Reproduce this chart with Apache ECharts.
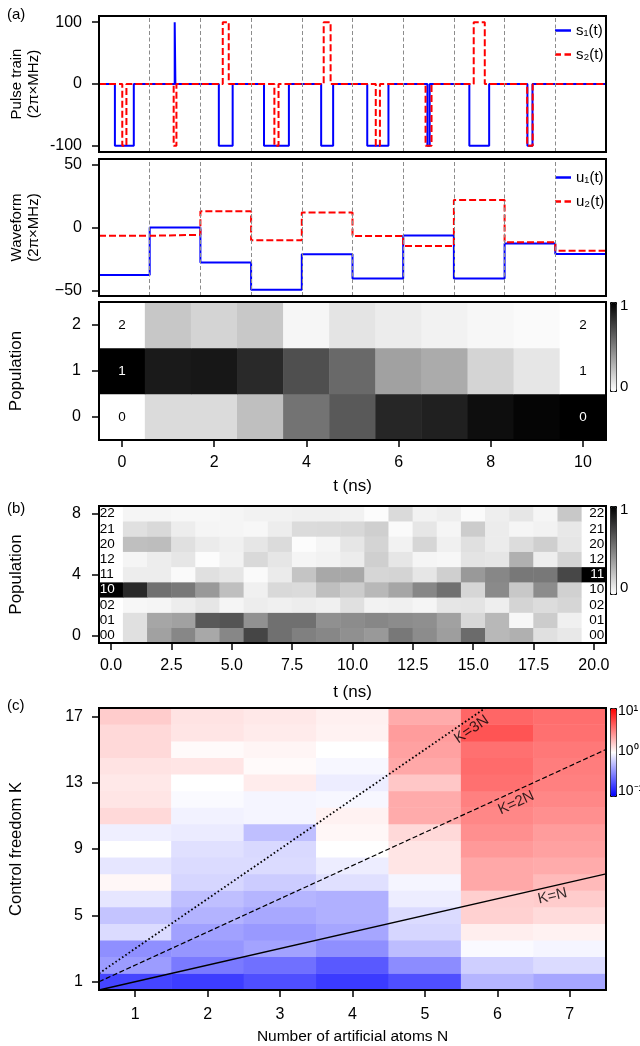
<!DOCTYPE html>
<html><head><meta charset="utf-8">
<script src="https://cdn.jsdelivr.net/npm/echarts@6/dist/echarts.min.js"></script>
<style>html,body{margin:0;padding:0;background:#fff}#c{width:640px;height:1046px}</style>
</head><body><div id="c"></div>
<script>
// ---------- Panel (a): pulse train & waveform ----------
const segBounds = [-0.5, 0.6, 1.7, 2.8, 3.9, 5.0, 6.1, 7.2, 8.3, 9.4, 10.5];
const s1Amp   = [-100, 100, -100, -100, -100, -100, -100, -100, -100, 0];
const s1Width = [0.41, 0.015, 0.30, 0.54, 0.26, 0.46, 0.05, 0.43, 0.11, 0];
const s2Amp   = [-100, -100, 100, -100, 100, -100, -100, 100, -100, 0];
const s2Width = [0.09, 0.06, 0.13, 0.09, 0.15, 0.09, 0.13, 0.24, 0.12, 0];
const u1 = [-37.8, 0, -27.9, -49.5, -21.3, -40.5, -6.4, -40.5, -12.8, -21.1];
const u2 = [-6.6, -5.8, 13.0, -10.1, 12.0, -6.7, -14.7, 21.8, -11.7, -18.4];
const pulseTicks = [-100, 0, 100];
const waveTicks = [-50, 0, 50];

// ---------- Panel (a): population ----------
const timeA = ['0','1','2','3','4','5','6','7','8','9','10'];
const levelsA = ['0','1','2'];
const popA0 = [0, 0.14, 0.14, 0.25, 0.55, 0.65, 0.85, 0.875, 0.945, 0.98, 1];
const popA1 = [1, 0.90, 0.91, 0.84, 0.69, 0.59, 0.37, 0.33, 0.17, 0.10, 0];
const popA2 = [0, 0.22, 0.17, 0.215, 0.035, 0.105, 0.075, 0.05, 0.03, 0.02, 0];

// ---------- Panel (b): two-atom population ----------
const timeB = ['0','1','2','3','4','5','6','7','8','9','10','11','12','13','14','15','16','17','18','19','20'];
const rowIdxB = ['0','1','2','3','4','5','6','7','8'];
const statesB = ['00','01','02','10','11','12','20','21','22'];
const popB00 = [0, 0.12, 0.37, 0.47, 0.34, 0.47, 0.73, 0.56, 0.50, 0.47, 0.435, 0.40, 0.53, 0.45, 0.38, 0.58, 0.28, 0.31, 0.12, 0.09, 0];
const popB01 = [0, 0.12, 0.35, 0.37, 0.65, 0.67, 0.43, 0.56, 0.56, 0.435, 0.45, 0.47, 0.45, 0.44, 0.37, 0.153, 0.28, 0.03, 0.20, 0.06, 0];
const popB02 = [0, 0.03, 0.04, 0.07, 0.10, 0.04, 0.07, 0.06, 0.07, 0.06, 0.12, 0.05, 0.06, 0.04, 0.10, 0.105, 0.067, 0.17, 0.137, 0.16, 0];
const popB10 = [1, 0.84, 0.56, 0.53, 0.40, 0.25, 0.06, 0.15, 0.14, 0.25, 0.20, 0.28, 0.35, 0.47, 0.56, 0.16, 0.46, 0.215, 0.45, 0.18, 0];
const popB11 = [0, 0.07, 0.07, 0.02, 0.12, 0.10, 0.02, 0.08, 0.23, 0.34, 0.34, 0.16, 0.17, 0.10, 0.19, 0.40, 0.47, 0.53, 0.53, 0.72, 1];
const popB12 = [0, 0.04, 0.07, 0.10, 0.01, 0.05, 0.15, 0.10, 0.04, 0.05, 0.075, 0.19, 0.10, 0.04, 0.03, 0.105, 0.10, 0.31, 0.067, 0.17, 0];
const popB20 = [0, 0.25, 0.26, 0.12, 0.08, 0.06, 0.10, 0.14, 0.01, 0.04, 0.10, 0.17, 0.05, 0.16, 0.06, 0.12, 0.075, 0.137, 0.19, 0.10, 0];
const popB21 = [0, 0.12, 0.15, 0.07, 0.04, 0.04, 0.03, 0.07, 0.14, 0.145, 0.153, 0.19, 0.02, 0.10, 0.04, 0.20, 0.075, 0.04, 0.05, 0.09, 0];
const popB22 = [0, 0.04, 0.04, 0.03, 0.03, 0.04, 0.05, 0.05, 0.06, 0.06, 0.05, 0.01, 0.145, 0.05, 0.067, 0.02, 0.067, 0.10, 0.04, 0.215, 0];
const tTicksB = [0, 2.5, 5, 7.5, 10, 12.5, 15, 17.5, 20];

// ---------- Panel (c): log10 ratio ----------
const atomsN = ['1','2','3','4','5','6','7'];
const freedomK = ['1','2','3','4','5','6','7','8','9','10','11','12','13','14','15','16','17'];
const logN1 = [-0.73, -0.39, -0.44, -0.14, -0.23, -0.10, 0.03, -0.10, 0.00, -0.063, 0.15, 0.10, 0.09, 0.11, 0.15, 0.15, 0.20];
const logN2 = [-0.76, -0.52, -0.41, -0.37, -0.30, -0.25, -0.16, -0.14, -0.12, -0.08, -0.05, -0.02, 0.00, 0.10, 0.02, 0.10, 0.11];
const logN3 = [-0.69, -0.56, -0.36, -0.40, -0.34, -0.29, -0.20, -0.14, -0.15, -0.25, -0.04, -0.04, 0.075, 0.02, 0.04, 0.08, 0.09];
const logN4 = [-0.77, -0.65, -0.44, -0.35, -0.31, -0.31, -0.12, -0.07, 0.00, 0.03, 0.05, -0.03, -0.07, -0.03, 0.00, 0.05, 0.06];
const logN5 = [-0.69, -0.45, -0.26, -0.16, -0.14, -0.07, -0.04, 0.10, 0.10, 0.15, 0.33, 0.33, 0.22, 0.34, 0.37, 0.39, 0.33];
const logN6 = [-0.29, -0.19, -0.02, 0.067, 0.18, 0.19, 0.34, 0.34, 0.40, 0.44, 0.47, 0.50, 0.56, 0.58, 0.56, 0.67, 0.60];
const logN7 = [-0.35, -0.14, -0.04, 0.05, 0.14, 0.20, 0.27, 0.33, 0.37, 0.39, 0.44, 0.47, 0.50, 0.51, 0.53, 0.56, 0.57];
const lineKN  = [[0.5, 0.5], [7.5, 7.5]];
const lineK2N = [[0.5, 1.0], [7.5, 15.0]];
const lineK3N = [[0.5, 1.5], [5.8333, 17.5]];
const lineLabelPos = [[5.645, 16.2, 'K=3N'], [6.26, 11.78, 'K=2N'], [6.76, 6.16, 'K=N']];
const lineLabelRot = [34.5, 24.6, 12.9];

// ---------- build helpers ----------
const FONT = 'Liberation Sans';
function pulsePoints(amp, width) {
  const pts = [[segBounds[0], 0]];
  for (let i = 0; i < amp.length; i++) {
    if (!amp[i] || !width[i]) continue;
    const c = (segBounds[i] + segBounds[i + 1]) / 2, a = c - width[i] / 2, b = c + width[i] / 2;
    pts.push([a, 0], [a, amp[i]], [b, amp[i]], [b, 0]);
  }
  pts.push([segBounds[segBounds.length - 1], 0]);
  return pts;
}
function stepPoints(vals) {
  const pts = vals.map((v, i) => [segBounds[i], v]);
  pts.push([segBounds[segBounds.length - 1], vals[vals.length - 1]]);
  return pts;
}
const vLines = segBounds.slice(1, -1).map(x => ({ xAxis: x }));
const markV = { silent: true, symbol: 'none', label: { show: false },
  lineStyle: { type: [4, 2.5], color: '#8c8c8c', width: 1 }, data: vLines, animation: false };

const popARows = [popA0, popA1, popA2];
const heatA = [];
popARows.forEach((row, r) => row.forEach((v, t) => {
  const item = { value: [t, r, v] };
  if (t === 0 || t === row.length - 1) item.label = { show: true, formatter: levelsA[r], color: v > 0.5 ? '#fff' : '#000', fontSize: 13.5 };
  heatA.push(item);
}));
const popBRows = [popB00, popB01, popB02, popB10, popB11, popB12, popB20, popB21, popB22];
const heatB = [];
popBRows.forEach((row, r) => row.forEach((v, t) => {
  const item = { value: [t, r, v] };
  if (t === 0) item.label = { show: true, formatter: statesB[r], position: 'insideLeft', distance: 1, color: v > 0.5 ? '#fff' : '#000', fontSize: 13.5 };
  if (t === row.length - 1) item.label = { show: true, formatter: statesB[r], position: 'insideRight', distance: 2, color: v > 0.5 ? '#fff' : '#000', fontSize: 13.5 };
  heatB.push(item);
}));
const logCols = [logN1, logN2, logN3, logN4, logN5, logN6, logN7];
const heatC = [];
logCols.forEach((col, n) => col.forEach((v, k) => heatC.push([n, k, v])));

const gridBase = { show: true, z: 10, borderColor: '#000', borderWidth: 2, backgroundColor: 'transparent', containLabel: false, outerBoundsMode: 'none' };
const tickStyle = { show: true, length: 7, lineStyle: { color: '#000', width: 1.5 } };
const lblStyle = { color: '#000', fontSize: 16, fontFamily: FONT };
const lineAx = { show: true, onZero: false, lineStyle: { color: '#000', width: 2 } };
const solidIcon = 'path://M0 0h16v2.5h-16z';
const dashIcon = 'path://M0 0h6v2.5h-6z M9.5 0h6.5v2.5h-6.5z';
const legendBase = { orient: 'vertical', left: 555, padding: 0, itemWidth: 16, itemHeight: 2.5, itemGap: 9,
  symbolKeepAspect: false, textStyle: { color: '#000', fontSize: 15, fontFamily: FONT }, selectedMode: false };

const option = {
  animation: false,
  textStyle: { fontFamily: FONT },
  grid: [
    Object.assign({ left: 99, top: 16, width: 507, height: 136 }, gridBase),
    Object.assign({ left: 99, top: 159, width: 507, height: 137 }, gridBase),
    Object.assign({ left: 99, top: 302, width: 507, height: 138 }, gridBase),
    Object.assign({ left: 99, top: 506, width: 507, height: 137 }, gridBase),
    Object.assign({ left: 99, top: 708, width: 507, height: 282 }, gridBase)
  ],
  xAxis: [
    { gridIndex: 0, type: 'value', min: -0.5, max: 10.5, show: false, position: 'bottom' },
    { gridIndex: 1, type: 'value', min: -0.5, max: 10.5, show: false, position: 'bottom' },
    { gridIndex: 2, type: 'category', data: timeA, position: 'bottom', axisLine: lineAx,
      axisTick: Object.assign({ interval: 1, alignWithLabel: true }, tickStyle),
      axisLabel: Object.assign({ interval: 1, margin: 15 }, lblStyle),
      name: 't (ns)', nameLocation: 'middle', nameGap: 38, nameMoveOverlap: false,
      nameTextStyle: { color: '#000', fontSize: 17, fontFamily: FONT } },
    { gridIndex: 3, type: 'category', data: timeB, show: false, position: 'top' },
    { gridIndex: 3, type: 'value', min: -0.5, max: 20.5, position: 'bottom', axisLine: lineAx,
      splitLine: { show: false },
      axisTick: Object.assign({ customValues: tTicksB }, tickStyle),
      axisLabel: Object.assign({ customValues: tTicksB, margin: 15, formatter: v => v.toFixed(1) }, lblStyle),
      name: 't (ns)', nameLocation: 'middle', nameGap: 41, nameMoveOverlap: false,
      nameTextStyle: { color: '#000', fontSize: 17, fontFamily: FONT } },
    { gridIndex: 4, type: 'category', data: atomsN, position: 'bottom', axisLine: lineAx,
      axisTick: Object.assign({ alignWithLabel: true }, tickStyle),
      axisLabel: Object.assign({ margin: 17 }, lblStyle),
      name: 'Number of artificial atoms N', nameLocation: 'middle', nameGap: 39, nameMoveOverlap: false,
      nameTextStyle: { color: '#000', fontSize: 15.5, fontFamily: FONT } },
    { gridIndex: 4, type: 'value', min: 0.5, max: 7.5, show: false, position: 'top' }
  ],
  yAxis: [
    { gridIndex: 0, type: 'value', min: -110, max: 110, position: 'left', axisLine: lineAx, splitLine: { show: false },
      axisTick: Object.assign({ customValues: pulseTicks }, tickStyle),
      axisLabel: Object.assign({ customValues: pulseTicks, margin: 17, formatter: v => String(v) }, lblStyle),
      name: 'Pulse train\n(2π×MHz)', nameLocation: 'middle', nameGap: 57, nameRotate: 90, nameMoveOverlap: false,
      nameTextStyle: { color: '#000', fontSize: 15, fontFamily: FONT, lineHeight: 17 } },
    { gridIndex: 1, type: 'value', min: -54.5, max: 54.5, position: 'left', axisLine: lineAx, splitLine: { show: false },
      axisTick: Object.assign({ customValues: waveTicks }, tickStyle),
      axisLabel: Object.assign({ customValues: waveTicks, margin: 17, formatter: v => v < 0 ? '\u2212' + (-v) : String(v) }, lblStyle),
      name: 'Waveform\n(2π×MHz)', nameLocation: 'middle', nameGap: 57, nameRotate: 90, nameMoveOverlap: false,
      nameTextStyle: { color: '#000', fontSize: 15, fontFamily: FONT, lineHeight: 17 } },
    { gridIndex: 2, type: 'category', data: levelsA, position: 'left', axisLine: lineAx,
      axisTick: Object.assign({ alignWithLabel: true }, tickStyle),
      axisLabel: Object.assign({ margin: 18 }, lblStyle),
      name: 'Population', nameLocation: 'middle', nameGap: 74, nameRotate: 90, nameMoveOverlap: false,
      nameTextStyle: { color: '#000', fontSize: 17, fontFamily: FONT } },
    { gridIndex: 3, type: 'category', data: rowIdxB, position: 'left', axisLine: lineAx,
      axisTick: Object.assign({ interval: 3, alignWithLabel: true }, tickStyle),
      axisLabel: Object.assign({ interval: 3, margin: 18 }, lblStyle),
      name: 'Population', nameLocation: 'middle', nameGap: 74, nameRotate: 90, nameMoveOverlap: false,
      nameTextStyle: { color: '#000', fontSize: 17, fontFamily: FONT } },
    { gridIndex: 4, type: 'category', data: freedomK, position: 'left', axisLine: lineAx,
      axisTick: Object.assign({ interval: 3, alignWithLabel: true }, tickStyle),
      axisLabel: Object.assign({ interval: 3, margin: 16 }, lblStyle),
      name: 'Control freedom K', nameLocation: 'middle', nameGap: 74, nameRotate: 90, nameMoveOverlap: false,
      nameTextStyle: { color: '#000', fontSize: 16.5, fontFamily: FONT } },
    { gridIndex: 4, type: 'value', min: 0.5, max: 17.5, show: false, position: 'right' }
  ],
  legend: [
    Object.assign({ top: 23, data: [{ name: 's\u2081(t)', icon: solidIcon }, { name: 's\u2082(t)', icon: dashIcon }] }, legendBase),
    Object.assign({ top: 170, data: [{ name: 'u\u2081(t)', icon: solidIcon }, { name: 'u\u2082(t)', icon: dashIcon }] }, legendBase)
  ],
  visualMap: [
    { type: 'continuous', seriesIndex: 4, min: 0, max: 1, inRange: { color: ['#ffffff', '#000000'] },
      left: 610, top: 302, itemWidth: 6, itemHeight: 89, calculable: false, padding: 0,
      borderColor: '#000', borderWidth: 1, text: null, hoverLink: false },
    { type: 'continuous', seriesIndex: 5, min: 0, max: 1, inRange: { color: ['#ffffff', '#000000'] },
      left: 610, top: 506, itemWidth: 6, itemHeight: 88, calculable: false, padding: 0,
      borderColor: '#000', borderWidth: 1, text: null, hoverLink: false },
    { type: 'continuous', seriesIndex: 6, min: -1, max: 1, inRange: { color: ['#0000ff', '#ffffff', '#ff0000'] },
      left: 610, top: 708, itemWidth: 6, itemHeight: 88, calculable: false, padding: 0,
      borderColor: '#000', borderWidth: 1, text: null, hoverLink: false }
  ],
  series: [
    { name: 's\u2081(t)', type: 'line', xAxisIndex: 0, yAxisIndex: 0, data: pulsePoints(s1Amp, s1Width),
      symbol: 'none', lineStyle: { color: '#0000ff', width: 2 }, itemStyle: { color: '#0000ff' }, markLine: markV, z: 3 },
    { name: 's\u2082(t)', type: 'line', xAxisIndex: 0, yAxisIndex: 0, data: pulsePoints(s2Amp, s2Width),
      symbol: 'none', lineStyle: { color: '#ff0000', width: 2, type: [7, 3] }, itemStyle: { color: '#ff0000' }, z: 4 },
    { name: 'u\u2081(t)', type: 'line', xAxisIndex: 1, yAxisIndex: 1, data: stepPoints(u1), step: 'end',
      symbol: 'none', lineStyle: { color: '#0000ff', width: 2 }, itemStyle: { color: '#0000ff' }, markLine: markV, z: 3 },
    { name: 'u\u2082(t)', type: 'line', xAxisIndex: 1, yAxisIndex: 1, data: stepPoints(u2), step: 'end',
      symbol: 'none', lineStyle: { color: '#ff0000', width: 2, type: [7, 3] }, itemStyle: { color: '#ff0000' }, z: 4 },
    { type: 'heatmap', xAxisIndex: 2, yAxisIndex: 2, data: heatA, emphasis: { disabled: true } },
    { type: 'heatmap', xAxisIndex: 3, yAxisIndex: 3, data: heatB, emphasis: { disabled: true } },
    { type: 'heatmap', xAxisIndex: 5, yAxisIndex: 4, data: heatC, emphasis: { disabled: true } },
    { type: 'line', xAxisIndex: 6, yAxisIndex: 5, data: lineKN, symbol: 'none', lineStyle: { color: '#000', width: 1.3 }, z: 5 },
    { type: 'line', xAxisIndex: 6, yAxisIndex: 5, data: lineK2N, symbol: 'none', lineStyle: { color: '#000', width: 1.2, type: [5, 2.5] }, z: 5 },
    { type: 'line', xAxisIndex: 6, yAxisIndex: 5, data: lineK3N, symbol: 'none', lineStyle: { color: '#000', width: 1.8, type: [1.6, 2.4] }, z: 5 },
    { type: 'scatter', xAxisIndex: 6, yAxisIndex: 5, symbolSize: 0, z: 6,
      data: lineLabelPos.map((p, i) => ({ value: [p[0], p[1]], label: { rotate: lineLabelRot[i], formatter: p[2] } })),
      label: { show: true, position: 'inside', color: '#000', fontSize: 15, fontFamily: FONT } }
  ],
  graphic: [
    { type: 'text', left: 7, top: 7, style: { text: '(a)', fontSize: 15, fontFamily: FONT, fill: '#000' } },
    { type: 'text', left: 7, top: 501, style: { text: '(b)', fontSize: 15, fontFamily: FONT, fill: '#000' } },
    { type: 'text', left: 7, top: 698, style: { text: '(c)', fontSize: 15, fontFamily: FONT, fill: '#000' } },
    { type: 'text', left: 620, top: 298, style: { text: '1', fontSize: 15, fontFamily: FONT, fill: '#000' } },
    { type: 'text', left: 620, top: 379, style: { text: '0', fontSize: 15, fontFamily: FONT, fill: '#000' } },
    { type: 'text', left: 620, top: 502, style: { text: '1', fontSize: 15, fontFamily: FONT, fill: '#000' } },
    { type: 'text', left: 620, top: 580, style: { text: '0', fontSize: 15, fontFamily: FONT, fill: '#000' } },
    { type: 'text', left: 618, top: 704, style: { text: '10\u00b9', fontSize: 14, fontFamily: FONT, fill: '#000' } },
    { type: 'text', left: 618, top: 744, style: { text: '10\u2070', fontSize: 14, fontFamily: FONT, fill: '#000' } },
    { type: 'text', left: 618, top: 784, style: { text: '10\u207b\u00b9', fontSize: 14, fontFamily: FONT, fill: '#000' } }
  ]
};
const chart = echarts.init(document.getElementById('c'), null, { renderer: 'canvas' });
chart.setOption(option);
</script></body></html>
